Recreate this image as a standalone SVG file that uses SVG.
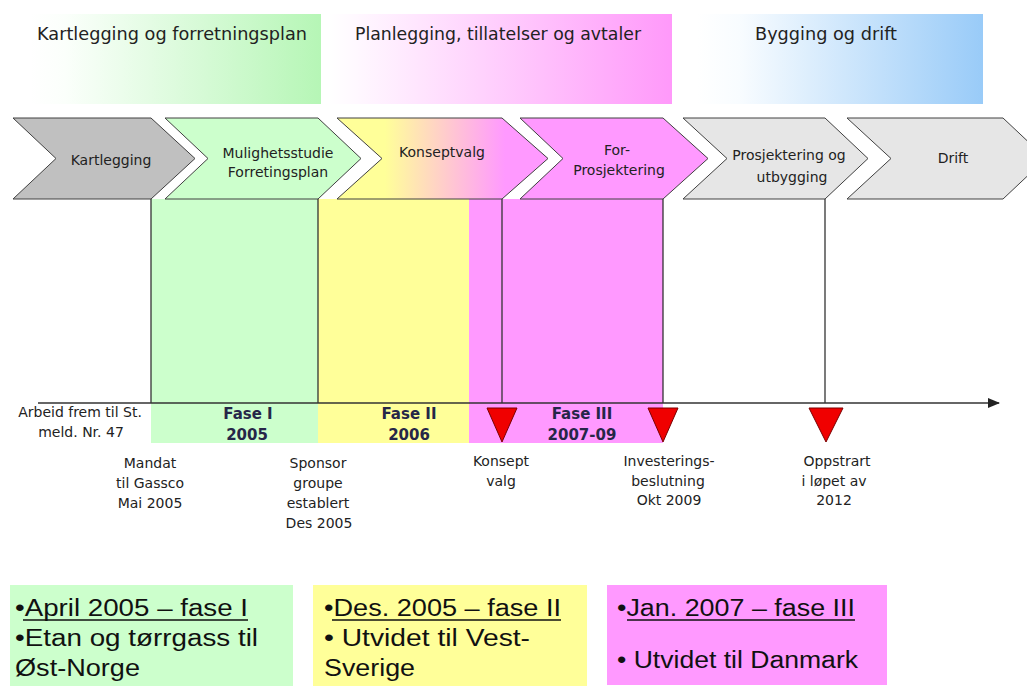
<svg xmlns="http://www.w3.org/2000/svg" width="1027" height="686" viewBox="0 0 1027 686">
<defs>
<linearGradient id="gGreen" x1="0" y1="0" x2="1" y2="0"><stop offset="0" stop-color="#ffffff"/><stop offset="0.12" stop-color="#fbfffb"/><stop offset="1" stop-color="#b6f6b6"/></linearGradient>
<linearGradient id="gPink" x1="0" y1="0" x2="1" y2="0"><stop offset="0" stop-color="#ffffff"/><stop offset="0.08" stop-color="#fff8ff"/><stop offset="1" stop-color="#ff99fa"/></linearGradient>
<linearGradient id="gBlue" x1="0" y1="0" x2="1" y2="0"><stop offset="0" stop-color="#ffffff"/><stop offset="0.15" stop-color="#f8fcff"/><stop offset="1" stop-color="#99cbf8"/></linearGradient>
<linearGradient id="gKons" gradientUnits="userSpaceOnUse" x1="385" y1="0" x2="505" y2="0"><stop offset="0" stop-color="#ffff99"/><stop offset="0.5" stop-color="#ffcccc"/><stop offset="1" stop-color="#ff99ff"/></linearGradient>
<marker id="arrow" markerUnits="userSpaceOnUse" markerWidth="12" markerHeight="10" refX="11" refY="5" orient="auto"><path d="M0,0 L12,5 L0,10 z" fill="#222"/></marker>
</defs>
<style>
.chev{stroke:#404040;stroke-width:1}
.t{font-family:"DejaVu Sans",Verdana,sans-serif;font-size:14px;fill:#222;text-anchor:middle}
.ban{font-family:"DejaVu Sans",Verdana,sans-serif;font-size:17.5px;fill:#222}
.b{font-family:"DejaVu Sans",Verdana,sans-serif;font-weight:bold;font-size:15px;fill:#262648;text-anchor:middle}
.big{font-family:"Liberation Sans",Arial,sans-serif;font-size:23px;fill:#111}
.ul{stroke:#111;stroke-width:1.5}
.vl{stroke:#333;stroke-width:1.3;fill:none}
.tri{fill:#f00000;stroke:#7a0000;stroke-width:1}
</style>
<rect width="1027" height="686" fill="#ffffff"/>

<g id="banner-kartlegging">
<rect x="30" y="14" width="291" height="90" fill="url(#gGreen)"/>
<text class="ban" x="37" y="40" textLength="270" lengthAdjust="spacingAndGlyphs">Kartlegging og forretningsplan</text>
</g>
<g id="banner-planlegging">
<rect x="329" y="14" width="343" height="90" fill="url(#gPink)"/>
<text class="ban" x="355" y="40" textLength="286" lengthAdjust="spacingAndGlyphs">Planlegging, tillatelser og avtaler</text>
</g>
<g id="banner-bygging">
<rect x="697" y="14" width="286" height="90" fill="url(#gBlue)"/>
<text class="ban" x="755" y="40" textLength="142" lengthAdjust="spacingAndGlyphs">Bygging og drift</text>
</g>

<g id="phase-regions">
<rect x="151" y="199" width="167" height="244" fill="#ccffcc"/>
<rect x="318" y="199" width="151" height="244" fill="#ffff99"/>
<rect x="469" y="199" width="194" height="244" fill="#ff99ff"/>
</g>

<g id="chevron-kartlegging">
<polygon class="chev" fill="#c0c0c0" points="13,118 151,118 195,158.5 151,199 13,199 56,158.5"/>
<text class="t" x="111" y="165">Kartlegging</text>
</g>
<g id="chevron-mulighetsstudie">
<polygon class="chev" fill="#ccffcc" points="165,118 318,118 361,158.5 318,199 165,199 208,158.5"/>
<text class="t" x="278" y="158">Mulighetsstudie</text>
<text class="t" x="278" y="177">Forretingsplan</text>
</g>
<g id="chevron-konseptvalg">
<polygon class="chev" fill="url(#gKons)" points="337,118 502,118 548,158.5 502,199 337,199 382,158.5"/>
<text class="t" x="442" y="157">Konseptvalg</text>
</g>
<g id="chevron-forprosjektering">
<polygon class="chev" fill="#ff99ff" points="520,118 663,118 708,158.5 663,199 520,199 563,158.5"/>
<text class="t" x="617" y="155">For-</text>
<text class="t" x="619" y="175">Prosjektering</text>
</g>
<g id="chevron-prosjektering">
<polygon class="chev" fill="#e6e6e6" points="683,118 825,118 868,158.5 825,199 683,199 727,158.5"/>
<text class="t" x="789" y="160">Prosjektering og</text>
<text class="t" x="792" y="182">utbygging</text>
</g>
<g id="chevron-drift">
<polygon class="chev" fill="#e6e6e6" points="847,118 1003,118 1046,158.5 1003,199 847,199 891,158.5"/>
<text class="t" x="953" y="163">Drift</text>
</g>

<g id="connectors">
<line class="vl" x1="151" y1="199" x2="151" y2="403"/>
<line class="vl" x1="318" y1="199" x2="318" y2="403"/>
<line class="vl" x1="502" y1="199" x2="502" y2="403"/>
<line class="vl" x1="663" y1="199" x2="663" y2="403"/>
<line class="vl" x1="825" y1="199" x2="825" y2="403"/>
<line class="vl" x1="38" y1="403" x2="999" y2="403" marker-end="url(#arrow)"/>
</g>

<g id="label-arbeid">
<text class="t" x="80" y="417">Arbeid frem til St.</text>
<text class="t" x="81" y="437">meld. Nr. 47</text>
</g>
<g id="label-fase1">
<text class="b" x="248" y="419">Fase I</text>
<text class="b" x="247" y="440">2005</text>
</g>
<g id="label-fase2">
<text class="b" x="409" y="419">Fase II</text>
<text class="b" x="409" y="440">2006</text>
</g>
<g id="label-fase3">
<text class="b" x="582" y="419">Fase III</text>
<text class="b" x="582" y="440">2007-09</text>
</g>

<g id="milestone-konsept">
<polygon class="tri" points="487,408 517,408 502,442"/>
<text class="t" x="501" y="466">Konsept</text>
<text class="t" x="501" y="486">valg</text>
</g>
<g id="milestone-investering">
<polygon class="tri" points="648,408 678,408 663,442"/>
<text class="t" x="669" y="466">Investerings-</text>
<text class="t" x="668" y="486">beslutning</text>
<text class="t" x="669" y="505">Okt 2009</text>
</g>
<g id="milestone-oppstart">
<polygon class="tri" points="809,408 843,408 826,442"/>
<text class="t" x="837" y="466">Oppstrart</text>
<text class="t" x="834" y="486">i løpet av</text>
<text class="t" x="834" y="505">2012</text>
</g>
<g id="label-mandat">
<text class="t" x="150" y="468">Mandat</text>
<text class="t" x="150" y="488">til Gassco</text>
<text class="t" x="150" y="508">Mai 2005</text>
</g>
<g id="label-sponsor">
<text class="t" x="318" y="468">Sponsor</text>
<text class="t" x="318" y="488">groupe</text>
<text class="t" x="318" y="508">establert</text>
<text class="t" x="319" y="528">Des 2005</text>
</g>

<g id="box-fase1">
<rect x="10" y="585" width="283" height="101" fill="#ccffcc"/>
<text class="big" x="15" y="616" textLength="233" lengthAdjust="spacingAndGlyphs">•April 2005 – fase I</text>
<line class="ul" x1="23" y1="620" x2="248" y2="620"/>
<text class="big" x="15" y="646" textLength="243" lengthAdjust="spacingAndGlyphs">•Etan og tørrgass til</text>
<text class="big" x="15" y="676" textLength="125" lengthAdjust="spacingAndGlyphs">Øst-Norge</text>
</g>
<g id="box-fase2">
<rect x="313" y="585" width="274" height="101" fill="#ffff99"/>
<text class="big" x="324" y="616" textLength="237" lengthAdjust="spacingAndGlyphs">•Des. 2005 – fase II</text>
<line class="ul" x1="332" y1="620" x2="561" y2="620"/>
<text class="big" x="324" y="646" textLength="206" lengthAdjust="spacingAndGlyphs">• Utvidet til Vest-</text>
<text class="big" x="324" y="676" textLength="91" lengthAdjust="spacingAndGlyphs">Sverige</text>
</g>
<g id="box-fase3">
<rect x="607" y="585" width="280" height="100" fill="#ff99ff"/>
<text class="big" x="617" y="616" textLength="238" lengthAdjust="spacingAndGlyphs">•Jan. 2007 – fase III</text>
<line class="ul" x1="627" y1="620" x2="855" y2="620"/>
<text class="big" x="617" y="668" textLength="241" lengthAdjust="spacingAndGlyphs">• Utvidet til Danmark</text>
</g>
</svg>
